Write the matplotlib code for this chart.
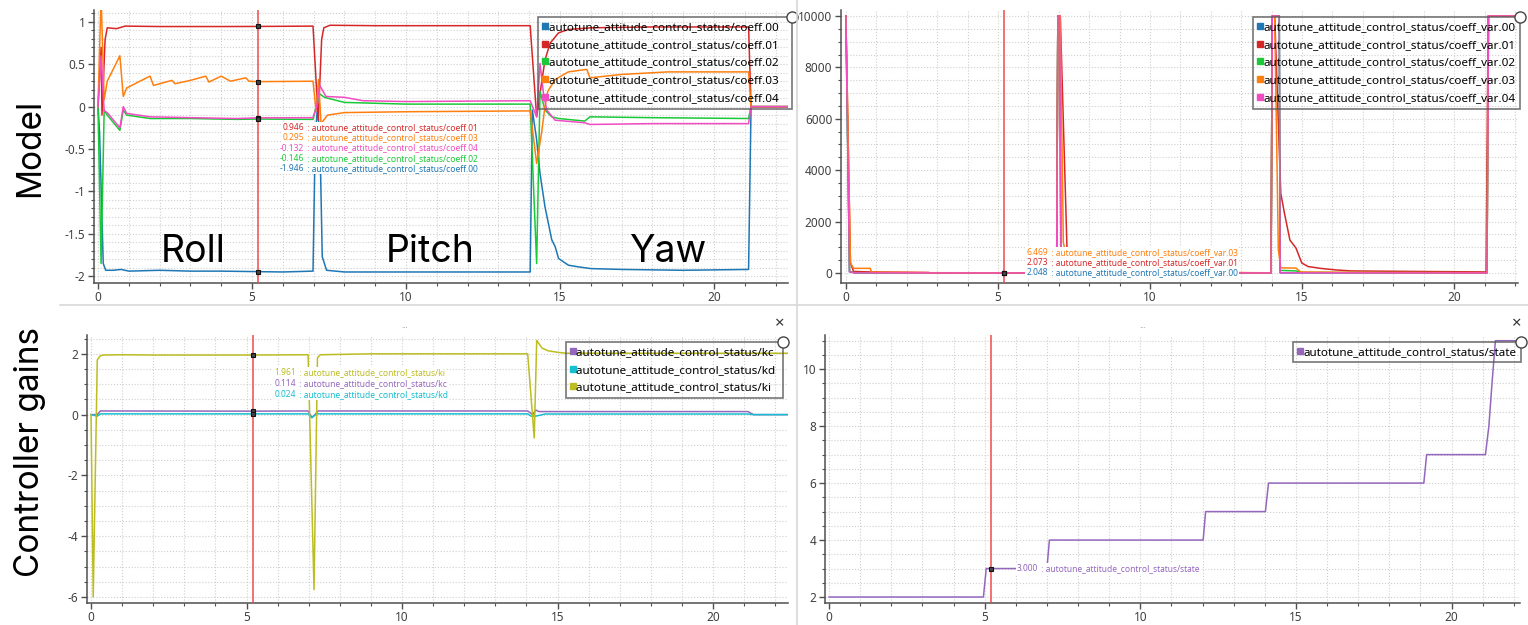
import matplotlib.pyplot as plt
from matplotlib.lines import Line2D
from matplotlib.ticker import MultipleLocator, FuncFormatter

plt.rcParams['font.family'] = ['Noto Sans', 'DejaVu Sans']
plt.rcParams['axes.unicode_minus'] = False

W, H = 1528, 625
T_TRACK = 5.2
PREFIX = 'autotune_attitude_control_status/'

# ---- model coefficients (top left) ----
c00_t = [0, 0.05, 0.17, 0.25, 0.5, 0.75, 1.0, 2, 3, 4, 5.2, 6.0, 6.98, 7.05, 7.12, 7.2, 7.28, 7.42, 8.0,
         10, 14.03, 14.1, 14.24, 14.35, 14.51, 14.73, 14.84, 14.95, 15.27, 15.6, 16.0, 17.0, 19.0, 21.12, 21.2, 22.4]
c00_v = [0, -0.3, -1.85, -1.93, -1.93, -1.92, -1.94, -1.93, -1.94, -1.94, -1.946, -1.95, -1.94, -0.4, -0.02, -0.3,
         -1.77, -1.93, -1.95, -1.95, -1.95, -0.04, -0.39, -0.79, -1.18, -1.57, -1.65, -1.79, -1.87, -1.89, -1.91,
         -1.92, -1.93, -1.92, 0, 0]
c01_t = [0, 0.1, 0.13, 0.23, 0.3, 0.6, 0.88, 2, 4, 5.2, 6.98, 7.15, 7.26, 7.33, 7.53, 9, 14.03, 14.24, 14.4,
         14.51, 14.68, 14.95, 15.26, 16.0, 18, 21.12, 21.2, 22.4]
c01_v = [0, 0.70, -0.10, 0.79, 0.93, 0.92, 0.95, 0.945, 0.945, 0.946, 0.95, -0.16, 0.79, 0.93, 0.96, 0.955,
         0.955, -0.12, 0.28, 0.55, 0.75, 0.87, 0.91, 0.93, 0.94, 0.94, 0, 0]
c02_t = [0, 0.1, 0.2, 0.3, 0.71, 0.82, 0.93, 1.7, 3, 4.5, 5.2, 6.98, 7.08, 7.2, 7.35, 8.0, 10, 14.03, 14.24,
         14.35, 14.51, 14.73, 14.95, 15.8, 15.97, 18, 21.12, 21.2, 22.4]
c02_v = [0, -1.85, -0.04, -0.1, -0.28, -0.04, -0.1, -0.14, -0.14, -0.15, -0.146, -0.15, 0.0, 0.15, 0.11, 0.05,
         0.03, 0.03, -1.85, 0.18, -0.04, -0.12, -0.14, -0.17, -0.12, -0.13, -0.14, 0, 0]
c03_t = [0, 0.1, 0.2, 0.3, 0.71, 0.82, 0.93, 1.36, 1.69, 1.8, 2.4, 2.5, 3.0, 3.5, 3.6, 4.0, 4.3, 4.8, 4.9, 5.2,
         6.98, 7.08, 7.16, 7.24, 7.45, 8.0, 10, 14.03, 14.24, 14.4, 14.51, 14.6, 14.84, 15.27, 15.87, 15.97, 17.0,
         18.5, 21.12, 21.2, 22.4]
c03_v = [0, 1.3, 0.08, 0.30, 0.6, 0.12, 0.22, 0.30, 0.36, 0.25, 0.31, 0.27, 0.31, 0.36, 0.29, 0.36, 0.30, 0.34,
         0.30, 0.295, 0.30, -0.05, 0.32, -0.2, -0.1, -0.07, -0.06, -0.05, -0.67, -0.31, 0.0, 0.18, 0.32, 0.41,
         0.44, 0.34, 0.38, 0.41, 0.41, 0, 0]
c04_t = [0, 0.1, 0.2, 0.3, 0.71, 0.82, 0.93, 1.7, 3, 4.5, 5.2, 6.98, 7.1, 7.2, 7.4, 8.0, 8.6, 10, 14.03, 14.24,
         14.35, 14.46, 14.57, 14.84, 15.8, 15.97, 18, 21.12, 21.2, 22.4]
c04_v = [0, 0.6, -0.05, -0.07, -0.25, 0.0, -0.08, -0.12, -0.13, -0.14, -0.132, -0.13, 0.0, 0.25, 0.12, 0.11,
         0.07, 0.06, 0.07, -0.12, 0.51, 0.16, -0.04, -0.16, -0.19, -0.21, -0.2, -0.2, 0, 0]

# ---- coefficient variances (top right) ----
v00_t = [0, 0.12, 0.3, 6.93, 6.97, 7.03, 7.07, 7.3, 13.98, 14.02, 14.25, 14.28, 21.08, 21.13, 22.2]
v00_v = [10000, 50, 2, 2, 10000, 10000, 800, 5, 2, 10000, 10000, 5, 2, 10000, 10000]
v01_t = [0, 0.15, 0.25, 0.8, 2.7, 2.8, 6.93, 6.97, 7.05, 7.27, 7.5, 8.0, 9.0, 11, 13.98, 14.02, 14.1, 14.3,
         14.42, 14.6, 14.8, 14.99, 15.2, 15.6, 16.1, 16.6, 17.6, 21.05, 21.12, 22.2]
v01_v = [10000, 400, 60, 40, 20, 3, 3, 10000, 10000, 1000, 300, 120, 50, 20, 3, 10000, 10000, 3100, 2330, 1280,
         970, 390, 250, 180, 120, 80, 70, 40, 10000, 10000]
v02_t = [0, 0.12, 0.3, 6.93, 6.97, 7.03, 7.07, 7.3, 13.98, 14.02, 14.25, 14.28, 14.8, 15.0, 21.08, 21.13, 22.2]
v02_v = [10000, 50, 10, 3, 10000, 10000, 800, 30, 3, 10000, 10000, 100, 80, 20, 10, 10000, 10000]
v03_t = [0, 0.15, 0.25, 0.8, 0.85, 2.7, 6.93, 6.97, 7.05, 7.15, 7.3, 8, 13.98, 14.02, 14.1, 14.22, 14.3, 14.8,
         14.95, 17, 21.08, 21.13, 22.2]
v03_v = [10000, 400, 180, 180, 30, 10, 6, 10000, 10000, 1200, 300, 60, 6, 10000, 10000, 900, 200, 190, 40,
         20, 10, 10000, 10000]
v04_t = [0, 0.12, 0.3, 6.93, 6.97, 7.03, 7.07, 7.3, 13.98, 14.02, 14.25, 14.28, 21.08, 21.13, 22.2]
v04_v = [10000, 50, 2, 2, 10000, 10000, 800, 5, 2, 10000, 10000, 5, 2, 10000, 10000]

# ---- controller gains (bottom left) ----
kc_t = [0, 0.2, 0.3, 5.2, 6.98, 7.1, 7.2, 7.3, 14.04, 14.2, 14.3, 14.4, 21.12, 21.3, 22.4]
kc_v = [0, 0.0, 0.12, 0.114, 0.12, -0.1, 0.0, 0.12, 0.12, 0.0, 0.15, 0.1, 0.1, 0.0, 0.0]
kd_t = [0, 0.2, 0.3, 5.2, 6.98, 7.1, 7.25, 14.04, 14.15, 14.3, 14.6, 21.12, 21.3, 22.4]
kd_v = [0, -0.05, 0.024, 0.024, 0.024, -0.1, 0.024, 0.024, -0.05, -0.05, 0.02, 0.02, 0.0, 0.0]
ki_t = [0, 0.07, 0.2, 0.29, 0.4, 1, 2, 3, 4, 5.2, 6.98, 7.17, 7.28, 7.37, 9, 12, 14.04, 14.25, 14.33, 14.5,
        14.7, 15.0, 15.3, 16, 18, 20, 22.4]
ki_v = [0, -6.0, 1.8, 1.93, 1.96, 1.97, 1.96, 1.96, 1.96, 1.961, 1.97, -5.76, 1.87, 1.97, 2.0, 2.0, 2.0, -0.77,
        2.44, 2.19, 2.1, 2.05, 2.02, 2.02, 2.02, 2.02, 2.02]

# ---- autotune state (bottom right) ----
st_t = [0, 4.96, 5.05, 7.0, 7.08, 12.02, 12.1, 14.02, 14.12, 19.11, 19.2, 21.09, 21.2, 21.3, 21.41, 22.2]
st_v = [2, 2, 3, 3, 4, 4, 5, 5, 6, 6, 7, 7, 8, 9.5, 11, 11]

# tracker readings at t = 5.2
coef_track_names = ['coeff.01', 'coeff.03', 'coeff.04', 'coeff.02', 'coeff.00']
coef_track_vals = [0.946, 0.295, -0.132, -0.146, -1.946]
var_track_names = ['coeff_var.03', 'coeff_var.01', 'coeff_var.00']
var_track_vals = [6.469, 2.073, 2.048]
gain_track_names = ['ki', 'kc', 'kd']
gain_track_vals = [1.961, 0.114, 0.024]
state_track_names = ['state']
state_track_vals = [3.000]

phases = ['Roll', 'Pitch', 'Yaw']
phase_x = [3.1, 10.8, 18.5]

blue, red, green, orange, pink = '#1f77b4', '#d62728', '#1ac938', '#ff7f0e', '#f14cc1'
purple, cyan, olive = '#9467bd', '#17becf', '#bcbd22'
col = {'coeff.00': blue, 'coeff.01': red, 'coeff.02': green, 'coeff.03': orange, 'coeff.04': pink,
       'coeff_var.00': blue, 'coeff_var.01': red, 'coeff_var.02': green, 'coeff_var.03': orange,
       'coeff_var.04': pink, 'kc': purple, 'kd': cyan, 'ki': olive, 'state': purple}

fig = plt.figure(figsize=(W / 100, H / 100), dpi=100)
fig.patch.set_facecolor('white')


def px_axes(l, t, r, b):
    return fig.add_axes([l / W, 1 - b / H, (r - l) / W, (b - t) / H])


def style(ax, xlim, ylim, ymaj, ymin):
    ax.set_xlim(*xlim)
    ax.set_ylim(*ylim)
    ax.xaxis.set_major_locator(MultipleLocator(5))
    ax.xaxis.set_minor_locator(MultipleLocator(1))
    ax.yaxis.set_major_locator(MultipleLocator(ymaj))
    ax.yaxis.set_minor_locator(MultipleLocator(ymin))
    fmt = FuncFormatter(lambda v, p: '%g' % round(v, 6))
    ax.xaxis.set_major_formatter(fmt)
    ax.yaxis.set_major_formatter(fmt)
    for s in ('top', 'right'):
        ax.spines[s].set_visible(False)
    for s in ('left', 'bottom'):
        ax.spines[s].set_color('#505050')
        ax.spines[s].set_linewidth(1.1)
    ax.tick_params(which='major', length=4.3, width=1, color='#505050', labelsize=8.5,
                   labelcolor='#404040', pad=2)
    ax.tick_params(axis='x', which='major', pad=1.2)
    ax.tick_params(which='minor', length=2.2, width=0.8, color='#505050')
    ax.grid(which='both', color='#cfcfcf', linestyle=':', linewidth=0.8)
    ax.set_axisbelow(True)


def legend(ax, names, anchor, tail=''):
    handles = [Line2D([], [], ls='none', marker='s', ms=4.5, color=col[n]) for n in names]
    leg = ax.legend(handles, [PREFIX + n + tail for n in names], loc='upper right', bbox_to_anchor=anchor,
                    frameon=True, fancybox=False, edgecolor='#555555', fontsize=8.4,
                    handlelength=0.4, handletextpad=0.1, borderpad=0.4, labelspacing=0.57,
                    borderaxespad=0)
    leg.get_frame().set_facecolor('none')
    leg.get_frame().set_linewidth(1.2)
    ax.plot([anchor[0]], [anchor[1]], 'o', ms=8, mfc='white', mec='#444444', mew=1,
            transform=ax.transAxes, clip_on=False, zorder=10)


def tracker(ax, names, vals, x_colon, y0, dy):
    ax.axvline(T_TRACK, color='#f04a4a', lw=1.1, zorder=4)
    ax.plot([T_TRACK] * len(vals), vals, 's', ms=2.8, mfc='#444444', mec='#111111', mew=0.8,
            ls='none', zorder=6)
    for i, (n, v) in enumerate(zip(names, vals)):
        y = 1 - (y0 + i * dy) / H
        for txt, x, ha in [('%.3f' % v, x_colon - 2, 'right'), (' : ' + PREFIX + n, x_colon - 1, 'left')]:
            # white backing first, coloured text on top so underscores are not hidden
            fig.text(x / W, y, txt, ha=ha, va='center', fontsize=6.1, color='white', zorder=5,
                     bbox=dict(fc='white', ec='none', pad=0.8))
            fig.text(x / W, y, txt, ha=ha, va='center', fontsize=6.1, color=col[n], zorder=6)


# top left: model coefficients
ax1 = px_axes(94, 10, 788, 283)
style(ax1, (-0.13, 22.4), (-2.08, 1.14), 0.5, 0.1)
for t, v, n in [(c00_t, c00_v, 'coeff.00'), (c01_t, c01_v, 'coeff.01'), (c02_t, c02_v, 'coeff.02'),
                (c03_t, c03_v, 'coeff.03'), (c04_t, c04_v, 'coeff.04')]:
    ax1.plot(t, v, color=col[n], lw=1.1)
legend(ax1, ['coeff.00', 'coeff.01', 'coeff.02', 'coeff.03', 'coeff.04'], (1.006, 0.974), tail='   ')
tracker(ax1, coef_track_names, coef_track_vals, 306, 127.7, 10.2)
for name, x in zip(phases, phase_x):
    ax1.text(x, -1.83, name, fontsize=27, family=['Inter', 'DejaVu Sans'], ha='center', va='baseline')

# top right: coefficient variances
ax2 = px_axes(841, 10, 1518, 283)
style(ax2, (-0.16, 22.1), (-390, 10233), 2000, 500)
for t, v, n in [(v00_t, v00_v, 'coeff_var.00'), (v01_t, v01_v, 'coeff_var.01'), (v02_t, v02_v, 'coeff_var.02'),
                (v03_t, v03_v, 'coeff_var.03'), (v04_t, v04_v, 'coeff_var.04')]:
    ax2.plot(t, v, color=col[n], lw=1.1)
legend(ax2, ['coeff_var.00', 'coeff_var.01', 'coeff_var.02', 'coeff_var.03', 'coeff_var.04'], (1.003, 0.974))
tracker(ax2, var_track_names, var_track_vals, 1050, 252.3, 10.3)

# bottom left: controller gains
ax3 = px_axes(87, 335, 788, 603)
style(ax3, (-0.13, 22.41), (-6.2, 2.62), 2, 0.5)
for t, v, n in [(kc_t, kc_v, 'kc'), (kd_t, kd_v, 'kd'), (ki_t, ki_v, 'ki')]:
    ax3.plot(t, v, color=col[n], lw=1.1)
legend(ax3, ['kc', 'kd', 'ki'], (0.993, 0.974), tail=' ')
tracker(ax3, gain_track_names, gain_track_vals, 298, 372.7, 10.8)

# bottom right: autotune state
ax4 = px_axes(825, 335, 1520, 603)
style(ax4, (-0.13, 22.2), (1.79, 11.2), 2, 0.5)
ax4.plot(st_t, st_v, color=col['state'], lw=1.1)
legend(ax4, ['state'], (1.001, 0.974))
tracker(ax4, state_track_names, state_track_vals, 1040, 568.3, 10)

# panel decorations
for x in (405, 1143):
    fig.text(x / W, 1 - 326 / H, '...', fontsize=6, color='#888888', ha='center', va='center')
for x in (780, 1517):
    fig.text(x / W, 1 - 324 / H, '×', fontsize=12, color='#333333', ha='center', va='center')
fig.add_artist(Line2D([60 / W, 1], [1 - 305 / H] * 2, color='#d8d8d8', lw=1.2))
fig.add_artist(Line2D([797 / W] * 2, [0, 1], color='#d8d8d8', lw=1.2))

# row labels
fig.text(30 / W, 1 - 148 / H, 'Model', rotation=90, fontsize=24, family=['Inter', 'DejaVu Sans'],
         ha='center', va='center')
fig.text(30 / W, 1 - 452 / H, 'Controller gains', rotation=90, fontsize=24,
         family=['Inter', 'DejaVu Sans'], ha='center', va='center')

fig.savefig('out.png', dpi=100, facecolor='white')
